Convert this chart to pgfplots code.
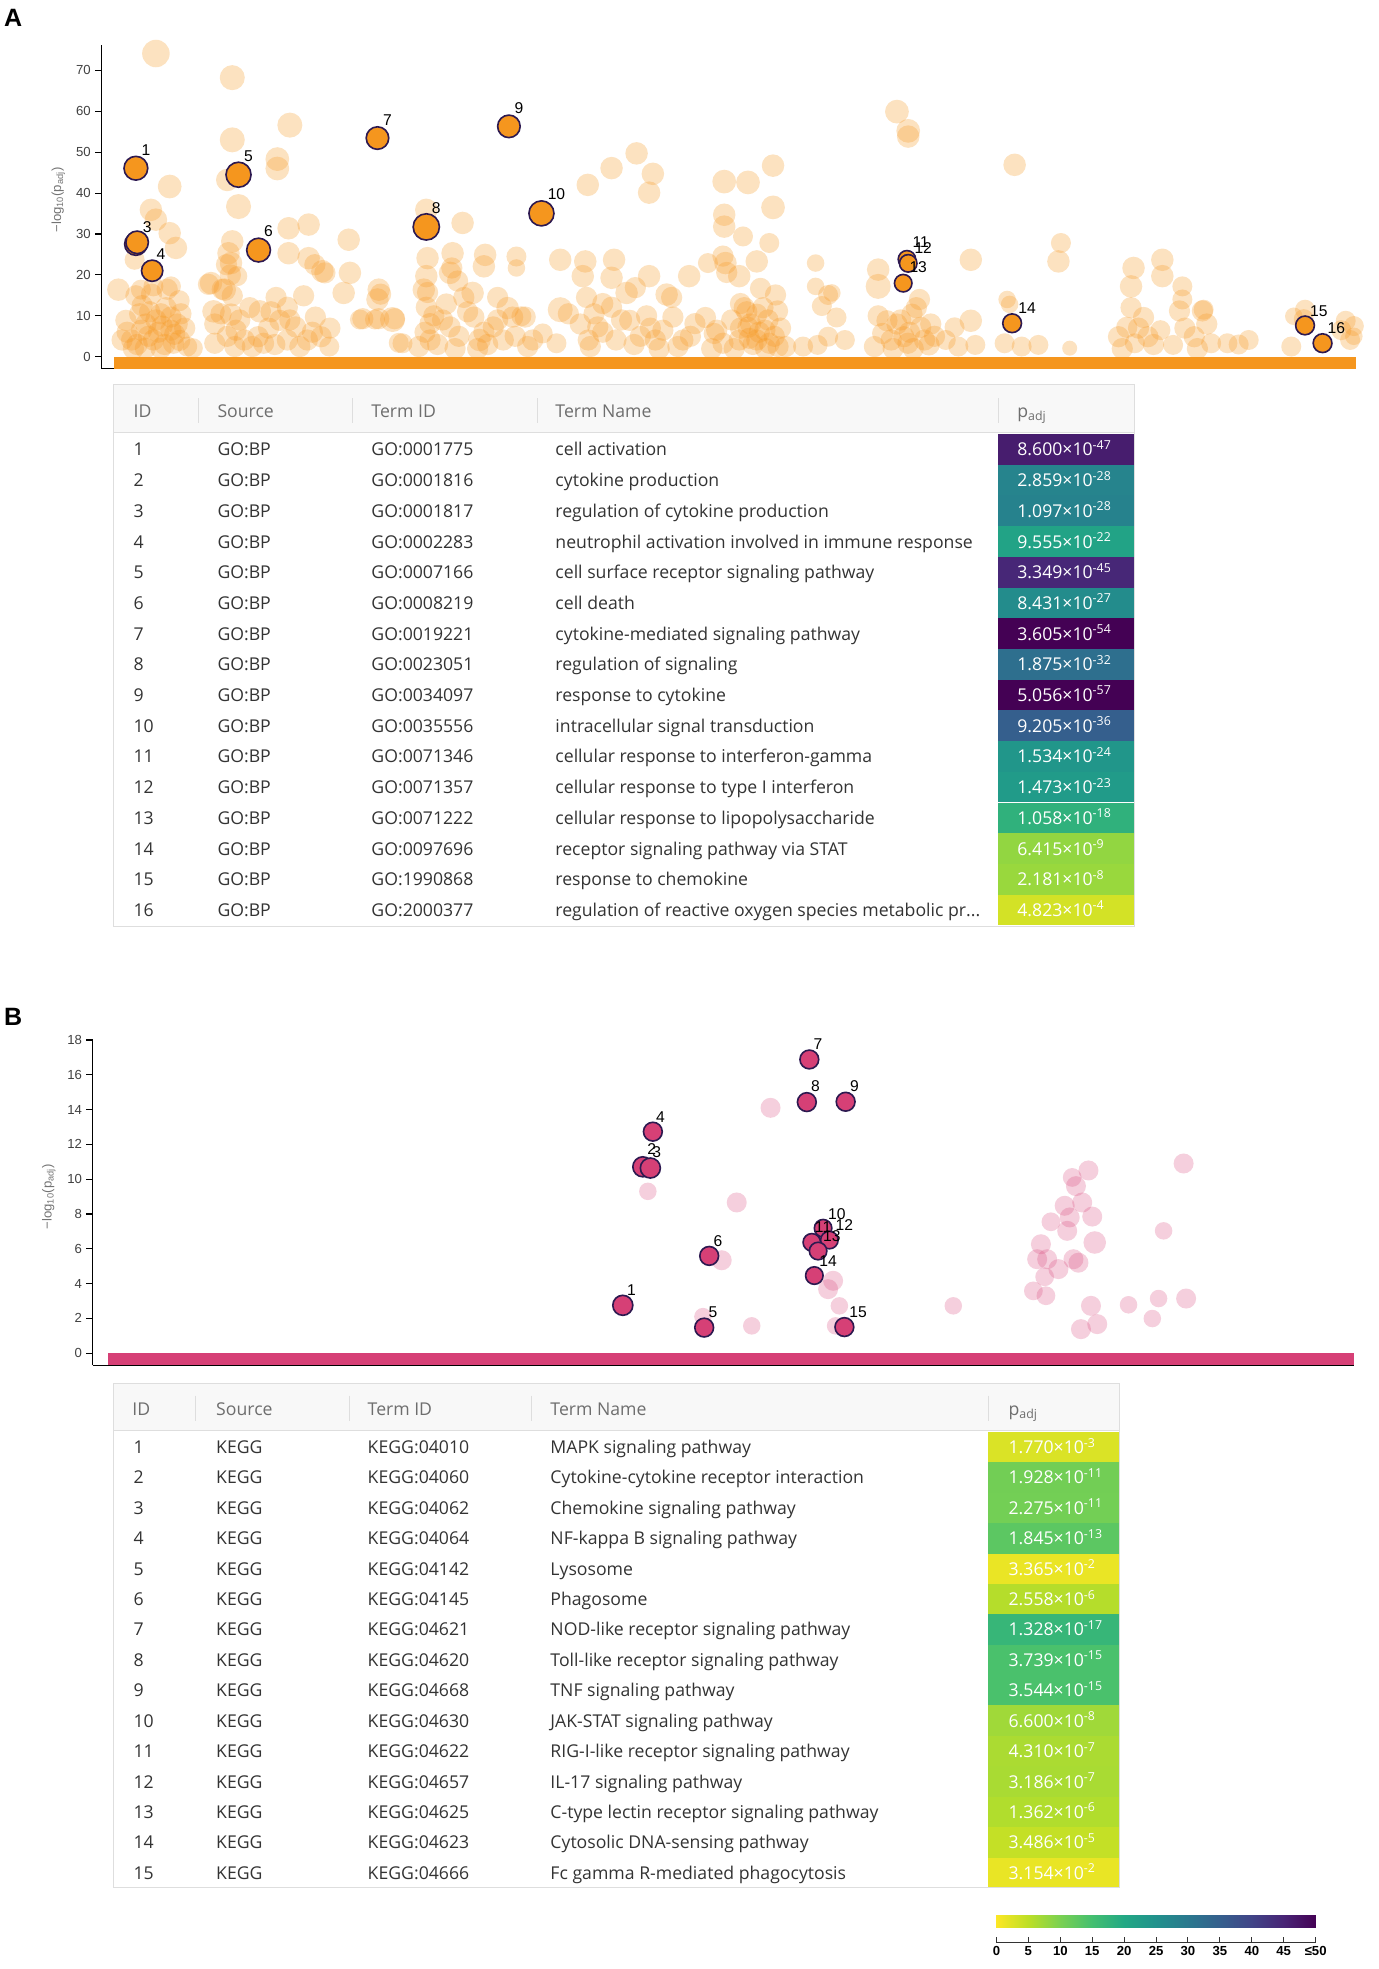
\documentclass[border=0pt]{standalone}
\usepackage{pgfplots}
\pgfplotsset{compat=1.18}
\usepgfplotslibrary{patchplots}
\usepackage{fontspec}
\setmainfont{Open Sans}
\newfontfamily\arial{Liberation Sans}

\definecolor{orA}{RGB}{245,150,30}
\definecolor{pkB}{RGB}{214,64,118}
\definecolor{ring}{RGB}{45,25,80}
\definecolor{hdr}{RGB}{248,248,248}
\definecolor{rule}{RGB}{222,222,222}
\definecolor{txt}{RGB}{51,51,51}
\definecolor{htxt}{RGB}{110,110,110}
% p_adj cell colours (reversed viridis, 0 -> yellow, >=50 -> purple)
\definecolor{ga1}{RGB}{71,29,110}
\definecolor{ga2}{RGB}{38,132,141}
\definecolor{ga3}{RGB}{38,130,141}
\definecolor{ga4}{RGB}{34,163,134}
\definecolor{ga5}{RGB}{71,39,119}
\definecolor{ga6}{RGB}{35,140,140}
\definecolor{ga7}{RGB}{68,1,84}
\definecolor{ga8}{RGB}{46,111,142}
\definecolor{ga9}{RGB}{68,1,84}
\definecolor{ga10}{RGB}{53,95,141}
\definecolor{ga11}{RGB}{33,150,138}
\definecolor{ga12}{RGB}{33,155,137}
\definecolor{ga13}{RGB}{48,177,124}
\definecolor{ga14}{RGB}{146,214,65}
\definecolor{ga15}{RGB}{153,216,61}
\definecolor{ga16}{RGB}{211,226,38}
\definecolor{kb1}{RGB}{218,227,38}
\definecolor{kb2}{RGB}{114,206,85}
\definecolor{kb3}{RGB}{115,207,85}
\definecolor{kb4}{RGB}{92,199,98}
\definecolor{kb5}{RGB}{234,229,37}
\definecolor{kb6}{RGB}{181,221,43}
\definecolor{kb7}{RGB}{55,182,120}
\definecolor{kb8}{RGB}{74,193,108}
\definecolor{kb9}{RGB}{74,193,108}
\definecolor{kb10}{RGB}{160,217,57}
\definecolor{kb11}{RGB}{171,219,50}
\definecolor{kb12}{RGB}{169,219,51}
\definecolor{kb13}{RGB}{177,221,45}
\definecolor{kb14}{RGB}{196,224,38}
\definecolor{kb15}{RGB}{233,229,37}

\pgfplotsset{
  manh/.style={
    scale only axis, clip=false,
    axis y line*=left, axis x line*=bottom, xtick=\empty,
    ytick pos=left, tick align=outside, major tick length=5pt,
    every tick/.style={black, line width=0.9pt},
    axis line style={black, line width=0.9pt},
    tick label style={font=\arial\fontsize{10.5}{11}\selectfont, text=black!75},
    /pgf/number format/assume math mode=true,
    ylabel={{\arial −log\textsubscript{10}(p\textsubscript{adj})}},
  },
  bubble/.style={
    only marks, mark=*, scatter, point meta=\thisrow{r},
    scatter/use mapped color={#1},
    visualization depends on={\thisrow{r}\as\rr},
    scatter/@pre marker code/.append style={/tikz/mark size=\rr},
  },
  lbl/.style={
    draw=none, mark=none, nodes near coords, point meta=explicit symbolic,
    nodes near coords style={anchor=center, inner sep=0pt,
      font=\arial\fontsize{12.5}{13}\selectfont, text=black},
  },
}
\tikzset{tx/.style={anchor=base west, inner sep=0pt, font=\fontsize{14.1}{16}\selectfont, text=txt}}

\newcommand{\trow}[7]{%
  \fill[#7] (\xP,{-#1+\hh}) rectangle (\xR,{-#1-\hh});
  \node[tx] at (\xI,{-#1-5.2}) {#2};
  \node[tx] at (\xS,{-#1-5.2}) {#3};
  \node[tx] at (\xT,{-#1-5.2}) {#4};
  \node[tx] at (\xN,{-#1-5.2}) {#5};
  \node[tx, text=white] at (\xQ,{-#1-5.2}) {#6};
}

\begin{document}
\begin{tikzpicture}[x=1pt, y=1pt]
\path (0,0) rectangle (1100,-1573);

\node[anchor=center, font=\arial\bfseries\fontsize{20}{22}\selectfont] at (9,-14) {A};
\node[anchor=center, font=\arial\bfseries\fontsize{20}{22}\selectfont] at (9,-812) {B};

% ---------------- panel A: Manhattan plot ----------------
\begin{axis}[manh,
    at={(79.5pt,-294.5pt)}, anchor=south west,
    width=1002.5pt, height=258.3pt,
    xmin=79.5, xmax=1082, ymin=-2.9, ymax=76.1,
    ytick={0,10,...,70},
    ylabel style={at={(axis description cs:-0.0344,0.5215)}, anchor=center,
      font=\fontsize{10.5}{11}\selectfont, text=black!55},
  ]
  \addplot[bubble={draw=orA, draw opacity=0, line width=0pt, fill=orA, fill opacity=0.28}] table {
    x y r
    123 74.1 11
    184 68.2 10
    230 56.6 10
    184 53.0 10
    220 48.3 9.5
    220 46.0 9.5
    134 41.6 9.5
    180 43.2 9
    189 36.7 10
    119 35.9 9
    123 33.5 9
    134 30.2 9
    139 26.6 9
    106 23.7 8
    93 16.4 9
    111 16.4 8
    121 17.2 8
    135 17.2 8
    184 28.2 9
    183 22.9 9
    181 25.3 9
    167 18.0 9
    178 16.4 9
    188 19.7 8
    169 11.1 9
    183 10.3 9
    206 11.1 9
    229 31.4 9
    245 32.3 9
    229 25.3 9
    245 24.1 9
    256 20.9 9
    277 28.6 9
    278 20.5 9
    273 15.6 9
    301 16.4 9
    300 14.0 9
    312 9.1 10
    286 9.1 8
    298 9.1 8
    317 3.4 8
    339 35.9 9
    340 24.1 9
    339 19.7 9
    337 16.4 9
    360 25.3 9
    358 20.5 9
    368 32.7 9
    386 24.9 9
    385 22.1 9
    376 15.6 9
    411 24.5 8
    411 21.7 7
    404 11.9 9
    415 9.9 8
    446 23.7 9
    446 11.5 10
    468 42.0 9
    487 46.1 9
    507 49.7 9
    520 44.7 9
    517 40.1 9
    466 23.3 9
    464 19.7 9
    489 23.7 9
    487 19.3 9
    499 15.6 9
    517 19.7 9
    531 15.2 9
    549 19.7 9
    715 59.9 9.5
    724 55.2 9.5
    724 53.8 9
    809 46.9 9
    577 42.8 9.5
    596 42.6 9.5
    616 46.7 9
    616 36.5 9.5
    577 34.7 9
    577 31.8 9
    592 29.4 8
    613 27.8 8
    564 22.9 8
    578 22.9 9
    603 23.3 9
    589 19.7 9
    650 22.9 7
    650 17.2 7
    663 15.6 7
    700 21.3 9
    700 17.2 10
    774 23.7 9
    846 27.8 8
    844 23.3 9
    904 21.7 9
    902 17.2 9
    927 23.7 9
    927 19.7 9
    943 17.2 8
    943 14.0 8
    960 11.5 8
    803 14.0 7
    805 12.8 7
    1032 9.9 7
    1041 11.5 8
    1080 7.5 8
    1080 5.0 7
    96 4.1 8.5
    103.6 4.1 8.5
    111.5 6.5 8.5
    121 4.1 8.5
    127 10.5 8.5
    135 9.7 8.5
    135 6.5 8.5
    137 3.3 8.5
    110 10.5 8.5
    107 14.9 8.5
    119.5 15.3 8.5
    132 16.5 8.5
    141.5 13.7 8.5
    148 2.5 8
    152.5 2.1 8
    99 8.9 8.5
    127 2.1 8.5
    114.6 2.1 8.5
    115 8 8.5
    125 6 8.5
    140 8 8.5
    118 11 8.5
    130 3 8.5
    105 2 8.5
    142 4 8.5
    100 6 8.5
    108 3 8.5
    117 5 8.5
    123 9 8.5
    131 12 8.5
    138 5.5 8.5
    146 7 8.5
    112 12.5 8.5
    128 7.5 8.5
    143 10.5 8.5
    165 17.7 8.5
    170 3.3 8.5
    175 10.5 8.5
    179.4 22.5 8.5
    182.5 20 8.5
    184 14.9 8.5
    176 16.5 8.5
    187 6.5 8.5
    193.6 4.1 8.5
    204.6 4.9 8.5
    209 3.3 8.5
    219 14.5 8.5
    222 8.9 8.5
    228 12.1 8.5
    228 4.1 8.5
    234.6 7.3 8.5
    241 14.9 8.5
    244 4.1 8.5
    250.4 9.7 8.5
    255 4.9 8.5
    261.5 2.5 8
    250 22.5 8.5
    258 20.5 8.5
    170 8 8.5
    180 5 8.5
    190 9 8.5
    198 12 8.5
    213 7 8.5
    218 3 8.5
    230 9 8.5
    238 2.5 8.5
    248 6 8.5
    262 7 8.5
    200 2.5 8.5
    186 2.5 8.5
    215 11 8.5
    288.3 9.3 8.5
    301 9.3 8.5
    302.5 15.3 8.5
    313.6 9.3 8.5
    320 3.3 8
    340 15.7 8.5
    339 12.1 8.5
    342 8.1 8.5
    342 4.1 8.5
    338 6 8.5
    345 10 8.5
    359.4 21.7 8.5
    364 18.5 8.5
    369 14.5 8.5
    377 9.7 8.5
    381.5 4.1 9
    380 2 8.5
    385 6 8.5
    392.5 7.3 8.5
    396 14.5 8.5
    355 12.9 8.5
    358 7.3 8.5
    400.5 4.1 8.5
    408 9.7 8.5
    418 9.7 8.5
    424 4.1 8.5
    432 5.7 8
    348 3 8.5
    352 9 8.5
    365 5 8.5
    372 11 8.5
    388 3 8.5
    396 9 8.5
    410 5 8.5
    420 2.5 8.5
    333 2.5 8.5
    362 2 8.5
    452.5 10.5 8.5
    443 3.3 8
    467 14.5 8.5
    473 10.5 8.5
    476 7.3 8.5
    468.4 4.1 8.5
    487 12.1 8.5
    490.5 4.1 8.5
    501.5 8.9 8.5
    506 16.9 8.5
    515 10 8.5
    510 5 8.5
    525 2 8.5
    522 4.1 8.5
    528 6.5 8.5
    535 14.5 8.5
    536 9.7 8.5
    544 4.1 8.5
    553.6 8.1 8.5
    571 6.5 8.5
    462 8 8.5
    470 2.5 8.5
    480 6 8.5
    495 9 8.5
    505 3 8.5
    518 7 8.5
    540 2.5 8.5
    550 5 8.5
    480 13 8.5
    576 24.6 8.5
    579 20.6 8.5
    606 16.7 8.5
    618 15.1 8.5
    593 12 8.5
    603 10.4 8.5
    596 7.2 8.5
    609.5 6.5 8.5
    589 4.1 8.5
    603 4.1 8.5
    613 3.3 8.5
    569 5.7 8.5
    576 3.3 8.5
    562 9.6 8.5
    619.6 11.2 8.5
    626 2.5 8.5
    598 8 8.5
    605 6 8.5
    600 3 8.5
    612 9 8.5
    595 11 8.5
    608 12 8.5
    590 7 8.5
    617 5 8.5
    585 2 8.5
    620 2.5 8.5
    583 9 8.5
    597 4.5 8.5
    610 2 8.5
    622 7 8.5
    590 13 8.5
    567 2 8.5
    640 2.5 8
    651.6 2.9 8
    660 15.1 8
    655 12.4 8
    666.7 9.6 8
    660 4.9 8
    673.4 4.1 8
    707 8.8 8.5
    703.6 5.7 8.5
    710.4 4.1 8.5
    720.5 4.9 8.5
    727 10.4 8.5
    730.5 12 8.5
    734 7.2 8.5
    737 4.1 8.5
    740.6 2.9 8.5
    723.8 3.3 8.5
    697 2.5 8.5
    715 8 8.5
    725 6 8.5
    745 5 8.5
    700 10 8.5
    712 2 8.5
    718 9 8.5
    728 2 8.5
    742 8 8.5
    733 14 8.5
    754 4.1 8
    761 7.2 8
    774 8.8 9
    777.6 2.9 8
    764 2.5 8
    801 3.3 8
    814.6 2.5 8
    828 2.9 8
    853 2.1 6
    902 12 8.5
    898.6 7.2 8.5
    892 4.9 8.5
    912 9.6 8.5
    915.5 4.9 8.5
    940.7 11.2 8.5
    959 11.2 8.5
    962.5 8 8.5
    952.5 4.9 8.5
    966 3.3 8
    979 3.3 8
    996 4.1 8
    935.6 2.9 8
    905 3.3 8
    925.5 6.5 8
    895 2 8.5
    908 7 8.5
    920 3 8.5
    945 7 8.5
    955 2 8.5
    988 3 8
    1030 2.5 8
    1040 9.2 8
    1070 6.5 8
    1073.5 8.8 8
    1077 4.1 8
  };
  \addplot[draw=none, fill=orA] coordinates {(89.3,-2.9) (1082,-2.9) (1082,0) (89.3,0)};
  \addplot[bubble={draw=ring, fill=orA, line width=1.3pt}] table {
    x y r
    107 46.07 9.5
    107 27.54 9
    108 27.96 9
    120 21.02 8.5
    189 44.48 10
    205 26.07 9.5
    300 53.44 9
    339 31.73 10.5
    405 56.30 9
    431 35.04 10
    723 23.81 7
    724 22.83 7
    720 17.98 7
    807 8.19 7.5
    1041 7.66 7.5
    1055 3.32 7.5
  };
  \addplot[lbl] table[meta=lab] {
    x y lab
    115 50.5 1
    116 31.8 3
    127 25.1 4
    197 49.0 5
    213 30.6 6
    308 57.8 7
    347 36.4 8
    413 60.8 9
    443 39.8 10
    734 28.0 11
    736 26.6 12
    732 21.8 13
    819 11.9 14
    1052 11.2 15
    1066 7.0 16
  };
\end{axis}

% ---------------- panel A: table ----------------
\fill[hdr] (89,-307) rectangle (905,-345);
\draw[rule, line width=0.8pt] (89,-345.5) -- (905,-345.5);
\foreach \s in {157,280,428,796} \draw[rule, line width=0.8pt] (\s,-318) -- (\s,-338);
\node[tx, text=htxt] at (105,-333.5) {ID};
\node[tx, text=htxt] at (172,-333.5) {Source};
\node[tx, text=htxt] at (295,-333.5) {Term ID};
\node[tx, text=htxt] at (442,-333.5) {Term Name};
\node[tx, text=htxt] at (811,-333.5) {p\textsubscript{adj}};
\def\xI{105}\def\xS{172}\def\xT{295}\def\xN{442}\def\xQ{811}\def\xP{796}\def\xR{905}\def\hh{12.27}
\trow{359.0}{1}{GO:BP}{GO:0001775}{cell activation}{8.600×10\textsuperscript{-47}}{ga1}
\trow{383.5}{2}{GO:BP}{GO:0001816}{cytokine production}{2.859×10\textsuperscript{-28}}{ga2}
\trow{408.1}{3}{GO:BP}{GO:0001817}{regulation of cytokine production}{1.097×10\textsuperscript{-28}}{ga3}
\trow{432.6}{4}{GO:BP}{GO:0002283}{neutrophil activation involved in immune response}{9.555×10\textsuperscript{-22}}{ga4}
\trow{457.1}{5}{GO:BP}{GO:0007166}{cell surface receptor signaling pathway}{3.349×10\textsuperscript{-45}}{ga5}
\trow{481.7}{6}{GO:BP}{GO:0008219}{cell death}{8.431×10\textsuperscript{-27}}{ga6}
\trow{506.2}{7}{GO:BP}{GO:0019221}{cytokine-mediated signaling pathway}{3.605×10\textsuperscript{-54}}{ga7}
\trow{530.7}{8}{GO:BP}{GO:0023051}{regulation of signaling}{1.875×10\textsuperscript{-32}}{ga8}
\trow{555.2}{9}{GO:BP}{GO:0034097}{response to cytokine}{5.056×10\textsuperscript{-57}}{ga9}
\trow{579.8}{10}{GO:BP}{GO:0035556}{intracellular signal transduction}{9.205×10\textsuperscript{-36}}{ga10}
\trow{604.3}{11}{GO:BP}{GO:0071346}{cellular response to interferon-gamma}{1.534×10\textsuperscript{-24}}{ga11}
\trow{628.8}{12}{GO:BP}{GO:0071357}{cellular response to type I interferon}{1.473×10\textsuperscript{-23}}{ga12}
\trow{653.4}{13}{GO:BP}{GO:0071222}{cellular response to lipopolysaccharide}{1.058×10\textsuperscript{-18}}{ga13}
\trow{677.9}{14}{GO:BP}{GO:0097696}{receptor signaling pathway via STAT}{6.415×10\textsuperscript{-9}}{ga14}
\trow{702.4}{15}{GO:BP}{GO:1990868}{response to chemokine}{2.181×10\textsuperscript{-8}}{ga15}
\trow{726.9}{16}{GO:BP}{GO:2000377}{regulation of reactive oxygen species metabolic pr...}{4.823×10\textsuperscript{-4}}{ga16}
\draw[rule, line width=0.8pt] (89,-307) rectangle (905,-740);

% ---------------- panel B: Manhattan plot ----------------
\begin{axis}[manh,
    at={(72.4pt,-1090.6pt)}, anchor=south west,
    width=1008.1pt, height=259.8pt,
    xmin=72.4, xmax=1080.5, ymin=-0.69, ymax=18,
    ytick={0,2,...,18},
    ylabel style={at={(axis description cs:-0.0346,0.518)}, anchor=center,
      font=\fontsize{10.5}{11}\selectfont, text=black!55},
  ]
  \addplot[bubble={draw=pkB, draw opacity=0, line width=0pt, fill=pkB, fill opacity=0.25}] table {
    x y r
    614 14.1 8
    587 8.66 8
    575 5.34 8
    560 2.1 7
    599 1.57 7
    664 4.16 8
    660 3.68 8
    669 2.72 7
    666 1.57 7
    760 2.72 7
    855 10.1 7.5
    868 10.5 8
    858 9.6 8
    849 8.47 8
    863 8.66 8
    853 7.8 8
    871 7.85 8
    838 7.55 7.5
    851 7.03 8
    830 6.26 8
    873 6.36 9
    827 5.4 8
    835 5.4 8
    856 5.4 8
    860 5.2 8
    844 4.83 8
    833 4.39 7.5
    824 3.58 7.5
    834 3.3 7.5
    870 2.72 8
    875 1.67 8
    862 1.38 8
    900 2.78 7
    924 3.14 7
    946 3.14 8
    919 1.99 7
    928 7.03 7
    944 10.9 8
    516 9.3 7
  };
  \addplot[draw=none, fill=pkB] coordinates {(84.5,-0.69) (1080.5,-0.69) (1080.5,0) (84.5,0)};
  \addplot[bubble={draw=ring, fill=pkB, line width=1.3pt}] table {
    x y r
    496 2.75 8
    512 10.71 8
    518 10.64 8
    520 12.73 7.5
    561 1.47 7.5
    565 5.59 7.5
    645 16.88 7.5
    643 14.43 7.5
    674 14.45 7.5
    656 7.18 7
    647 6.37 7
    661 6.50 7
    652 5.87 7
    649 4.46 7
    673 1.50 7.5
  };
  \addplot[lbl] table[meta=lab] {
    x y lab
    503 3.64 1
    519 11.75 2
    523 11.57 3
    526 13.54 4
    568 2.34 5
    572 6.46 6
    652 17.76 7
    650 15.33 8
    681 15.33 9
    667 7.99 10
    656 7.22 11
    673 7.36 12
    663 6.74 13
    660 5.27 14
    684 2.38 15
  };
\end{axis}

% ---------------- panel B: table ----------------
\fill[hdr] (89,-1105) rectangle (893,-1142);
\draw[rule, line width=0.8pt] (89,-1142.5) -- (893,-1142.5);
\foreach \s in {155,278,423,788} \draw[rule, line width=0.8pt] (\s,-1115) -- (\s,-1135);
\node[tx, text=htxt] at (104,-1130.5) {ID};
\node[tx, text=htxt] at (171,-1130.5) {Source};
\node[tx, text=htxt] at (292,-1130.5) {Term ID};
\node[tx, text=htxt] at (438,-1130.5) {Term Name};
\node[tx, text=htxt] at (804,-1130.5) {p\textsubscript{adj}};
\def\xI{105}\def\xS{171}\def\xT{292}\def\xN{438}\def\xQ{804}\def\xP{788}\def\xR{893}\def\hh{12.15}
\trow{1156.0}{1}{KEGG}{KEGG:04010}{MAPK signaling pathway}{1.770×10\textsuperscript{-3}}{kb1}
\trow{1180.3}{2}{KEGG}{KEGG:04060}{Cytokine-cytokine receptor interaction}{1.928×10\textsuperscript{-11}}{kb2}
\trow{1204.6}{3}{KEGG}{KEGG:04062}{Chemokine signaling pathway}{2.275×10\textsuperscript{-11}}{kb3}
\trow{1228.9}{4}{KEGG}{KEGG:04064}{NF-kappa B signaling pathway}{1.845×10\textsuperscript{-13}}{kb4}
\trow{1253.2}{5}{KEGG}{KEGG:04142}{Lysosome}{3.365×10\textsuperscript{-2}}{kb5}
\trow{1277.5}{6}{KEGG}{KEGG:04145}{Phagosome}{2.558×10\textsuperscript{-6}}{kb6}
\trow{1301.7}{7}{KEGG}{KEGG:04621}{NOD-like receptor signaling pathway}{1.328×10\textsuperscript{-17}}{kb7}
\trow{1326.0}{8}{KEGG}{KEGG:04620}{Toll-like receptor signaling pathway}{3.739×10\textsuperscript{-15}}{kb8}
\trow{1350.3}{9}{KEGG}{KEGG:04668}{TNF signaling pathway}{3.544×10\textsuperscript{-15}}{kb9}
\trow{1374.6}{10}{KEGG}{KEGG:04630}{JAK-STAT signaling pathway}{6.600×10\textsuperscript{-8}}{kb10}
\trow{1398.9}{11}{KEGG}{KEGG:04622}{RIG-I-like receptor signaling pathway}{4.310×10\textsuperscript{-7}}{kb11}
\trow{1423.2}{12}{KEGG}{KEGG:04657}{IL-17 signaling pathway}{3.186×10\textsuperscript{-7}}{kb12}
\trow{1447.5}{13}{KEGG}{KEGG:04625}{C-type lectin receptor signaling pathway}{1.362×10\textsuperscript{-6}}{kb13}
\trow{1471.8}{14}{KEGG}{KEGG:04623}{Cytosolic DNA-sensing pathway}{3.486×10\textsuperscript{-5}}{kb14}
\trow{1496.1}{15}{KEGG}{KEGG:04666}{Fc gamma R-mediated phagocytosis}{3.154×10\textsuperscript{-2}}{kb15}
\draw[rule, line width=0.8pt] (89,-1105) rectangle (893,-1508);

% ---------------- colour scale ----------------
\begin{axis}[
    at={(794.5pt,-1551.5pt)}, anchor=south west, scale only axis,
    width=255pt, height=21.5pt, clip=false,
    xmin=0, xmax=50, ymin=-1.15, ymax=1,
    axis x line*=bottom, axis y line=none,
    axis line style={black!80, line width=0.8pt},
    xtick={0,5,...,50},
    xticklabels={0,5,10,15,20,25,30,35,40,45,≤50},
    tick align=inside, major tick length=4pt,
    every tick/.style={black!80, line width=0.8pt},
    x tick label style={font=\arial\bfseries\fontsize{10.5}{11}\selectfont},
    /pgf/number format/assume math mode=true,
    colormap={rvir}{rgb255=(253,231,37) rgb255=(189,223,38) rgb255=(122,209,81)
      rgb255=(68,191,112) rgb255=(34,168,132) rgb255=(33,145,140) rgb255=(42,120,142)
      rgb255=(53,95,141) rgb255=(65,68,135) rgb255=(72,36,117) rgb255=(68,1,84)},
    point meta min=0, point meta max=50,
  ]
  \addplot[patch, patch type=rectangle, shader=interp, point meta=explicit] coordinates {
    (0,0)[0] (5,0)[5] (5,1)[5] (0,1)[0]
    (5,0)[5] (10,0)[10] (10,1)[10] (5,1)[5]
    (10,0)[10] (15,0)[15] (15,1)[15] (10,1)[10]
    (15,0)[15] (20,0)[20] (20,1)[20] (15,1)[15]
    (20,0)[20] (25,0)[25] (25,1)[25] (20,1)[20]
    (25,0)[25] (30,0)[30] (30,1)[30] (25,1)[25]
    (30,0)[30] (35,0)[35] (35,1)[35] (30,1)[30]
    (35,0)[35] (40,0)[40] (40,1)[40] (35,1)[35]
    (40,0)[40] (45,0)[45] (45,1)[45] (40,1)[40]
    (45,0)[45] (50,0)[50] (50,1)[50] (45,1)[45]
  };
\end{axis}
\end{tikzpicture}
\end{document}
